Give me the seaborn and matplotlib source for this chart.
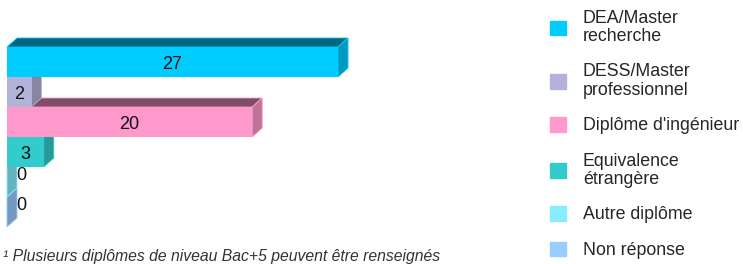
import matplotlib
matplotlib.use("Agg")
import matplotlib.pyplot as plt
from matplotlib.patches import Polygon, Patch
from matplotlib.colors import to_rgb
import seaborn as sns
import pandas as pd

categories = ["DEA/Master\nrecherche", "DESS/Master\nprofessionnel", "Diplôme d'ingénieur",
              "Equivalence\nétrangère", "Autre diplôme", "Non réponse"]
values = [27, 2, 20, 3, 0, 0]
colors = ["#00CCFF", "#B3B3D9", "#FF99CC", "#33CCCC", "#88EEFF", "#99CCFF"]
footnote = "¹ Plusieurs diplômes de niveau Bac+5 peuvent être renseignés"

sns.set_theme(style="white")
plt.rcParams['font.family'] = ['Liberation Sans', 'DejaVu Sans']

W, H = 743, 264
fig = plt.figure(figsize=(W / 100, H / 100), dpi=100)
ax = fig.add_axes([0, 0, 1, 1])

df = pd.DataFrame({"cat": categories, "val": values})
sns.barplot(data=df, x="val", y="cat", hue="cat", palette=colors, orient="h",
            width=1.0, legend=False, ax=ax, saturation=1, linewidth=0)

# scale: 12.26 px per unit, x=0 at 7px; bar rows of 30px starting at 47px
pxu = 12.26
ax.set_xlim(-7 / pxu, (W - 7) / pxu)
ax.set_ylim(5.5 + (H - 227) / 30, -0.5 - 47 / 30)
ax.set_axis_off()

dx = 10 / pxu
dy = 9 / 30


def shade(c, f):
    r, g, b = to_rgb(c)
    return (r * f, g * f, b * f)


for p in list(ax.patches):
    yc = p.get_y() + p.get_height() / 2
    i = int(round(yc))
    base = colors[i]
    v = p.get_width()
    x0 = p.get_x()
    yt = p.get_y()
    yb = p.get_y() + p.get_height()
    z = 100 - 10 * i
    p.set_zorder(z + 2)
    p.set_edgecolor(base)
    top = Polygon([(x0, yt), (x0 + v, yt), (x0 + v + dx, yt - dy), (x0 + dx, yt - dy)],
                  closed=True, facecolor=shade(base, 0.5), edgecolor=base, lw=0.6, zorder=z + 1)
    side = Polygon([(x0 + v, yt), (x0 + v + dx, yt - dy), (x0 + v + dx, yb - dy), (x0 + v, yb)],
                   closed=True, facecolor=shade(base, 0.75), edgecolor=base, lw=0.6, zorder=z + 1)
    ax.add_patch(top)
    ax.add_patch(side)
    if v > 0:
        ax.text(x0 + v / 2, yc + 0.08, f"{int(v)}", ha="center", va="center",
                fontsize=13, color="#111111", zorder=300)
    else:
        ax.text(0.75, yc - 0.2, f"{int(v)}", ha="left", va="center",
                fontsize=13, color="#111111", zorder=300)

handles = [Patch(facecolor=c, edgecolor=c) for c in colors]
leg = fig.legend(handles, categories, loc="upper left", bbox_to_anchor=(550 / W, 1 - 10 / H),
                 frameon=False, fontsize=12.8, handlelength=0.9, handleheight=0.9,
                 handletextpad=0.95, labelspacing=1.02, borderpad=0, borderaxespad=0)
for t in leg.get_texts():
    t.set_linespacing(1.1)

fig.text(3 / W, (H - 261) / H, footnote, fontsize=11.3, style="italic",
         color="#333333", ha="left", va="baseline")

fig.savefig("out.png", dpi=100)
